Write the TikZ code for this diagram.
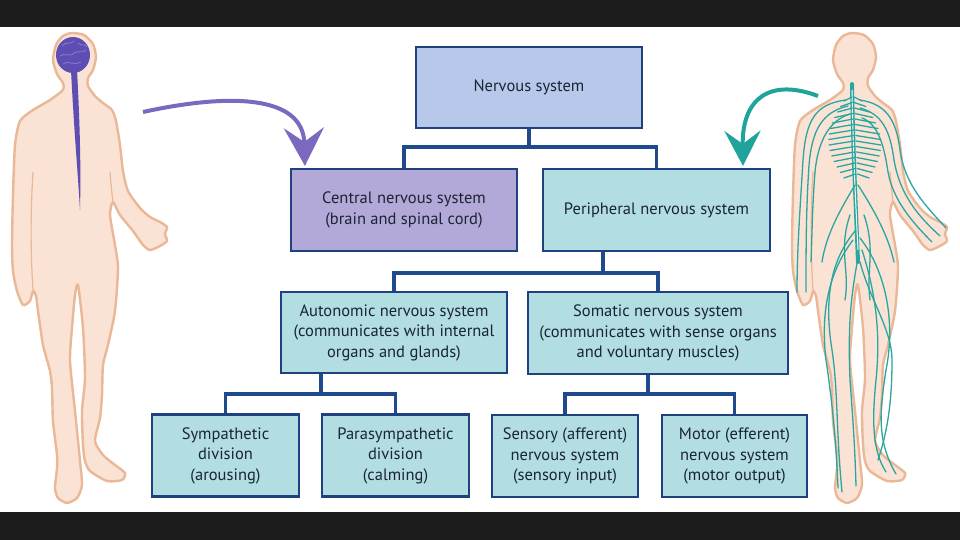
\documentclass[tikz,border=0pt]{standalone}
\usepackage{fontspec}
\setmainfont{PT Sans}
\usetikzlibrary{arrows.meta}
\definecolor{barcol}{HTML}{1C1C1C}
\definecolor{nsfill}{HTML}{B8C8EA}
\definecolor{cnsfill}{HTML}{B3A9D9}
\definecolor{tfill}{HTML}{B2DEE2}
\definecolor{bordercol}{HTML}{1F4181}
\definecolor{conncol}{HTML}{1F4A8C}
\definecolor{textcol}{HTML}{1A2434}
\definecolor{parrowcol}{HTML}{7B69BF}
\definecolor{tarrowcol}{HTML}{1FA39A}
\definecolor{skin}{HTML}{FAE3D4}
\definecolor{skinline}{HTML}{EAB797}
\definecolor{braincol}{HTML}{5E4DB2}
\definecolor{brainlight}{HTML}{8A7CD0}
\definecolor{nervecol}{HTML}{2AA6A0}
\begin{document}
\begin{tikzpicture}[x=1pt,y=-1pt,
  box/.style={draw=bordercol,line width=2.2pt,inner sep=0pt,align=center,text=textcol,
    font=\fontsize{16.5}{20.5}\selectfont},
  conn/.style={draw=conncol,line width=3.6pt},
  parrow/.style={draw=parrowcol,line width=4pt,shorten >=2pt,
    -{Stealth[length=38pt,width=40pt,inset=14pt]}},
  tarrow/.style={draw=tarrowcol,line width=4pt,shorten >=2pt,
    -{Stealth[length=35pt,width=36pt,inset=13pt]}},
  bodyline/.style={draw=skinline,fill=skin,line width=2.4pt,line join=round},
  innerline/.style={draw=skinline,line width=1.2pt,line cap=round},
  nerve/.style={draw=nervecol,line width=1.3pt,line cap=round},
  human/.pic={
    \draw[bodyline] plot[smooth cycle,tension=0.4] coordinates {
      (72,33) (84,35) (93,44) (96,57) (93,70) (88,78) (88,86) (95,96) (103,103)
      (112,110) (116,121) (120,145) (123,171) (128,191) (140,208) (150,217)
      (160,222) (167,227) (165,234) (167,241) (160,246) (150,250) (143,245)
      (133,231) (120,215) (113,202) (110,215) (115,245) (118,268) (115,311)
      (108,345) (103,365) (102,395) (100,418) (95,441) (103,455) (115,465)
      (125,473) (122,480) (107,481) (90,471) (85,461) (83,445) (82,411) (85,378)
      (83,328) (78,285) (75,295) (72,328) (70,361) (75,411) (80,461) (82,485)
      (77,498) (67,503) (58,498) (55,488) (57,468) (57,455) (53,421) (52,388)
      (50,371) (43,345) (38,311) (36,296) (33,291) (30,301) (23,305) (17,291)
      (13,271) (12,245) (13,195) (15,145) (20,121) (33,110) (50,100) (63,90)
      (63,83) (57,74) (53,60) (56,45) (63,36)};
    \draw[innerline] (33,172) .. controls (30,220) and (31,260) .. (33,290);
    \draw[innerline] (110,172) .. controls (111,185) and (112,195) .. (113,202);
  }]
\useasboundingbox (0,0) rectangle (960,540);
\fill[white] (0,0) rectangle (960,540);
\fill[barcol] (0,0) rectangle (960,27);
\fill[barcol] (0,512) rectangle (960,540);

% ---- figures
\pic at (0,0) {human};
\pic at (780,0) {human};

% brain and spinal cord (left figure)
\fill[braincol] (71,70) .. controls (74,130) and (78,175) .. (80,210)
  .. controls (81,170) and (80,125) .. (77,70) -- cycle;
\fill[braincol] (73,55) ellipse [x radius=17pt, y radius=18pt];
\draw[brainlight,line width=0.8pt] (62,46) .. controls (66,41) and (70,45) .. (74,41)
  (60,56) .. controls (65,52) and (69,58) .. (74,53) .. controls (78,50) and (82,54) .. (86,50)
  (63,64) .. controls (69,60) and (73,66) .. (81,62)
  (78,43) .. controls (82,47) and (85,43) .. (87,47);

% nerves (right figure)
\draw[nerve,line width=4pt] (852,84) .. controls (853,150) and (856,210) .. (858,262);
\draw[white,line width=1pt] (852,90) .. controls (853,150) and (856,210) .. (858,250);
\foreach \i in {0,...,14}{
  \pgfmathsetmacro{\yy}{97+5.5*\i}
  \pgfmathsetmacro{\ll}{8+17*sin(\i*12)}
  \pgfmathsetmacro{\xx}{852+0.25*\i}
  \draw[nerve] (\xx,\yy) -- ++(-\ll,4);
  \draw[nerve] (\xx+2,\yy) -- ++(\ll,4);
}
\draw[nerve] (846,100) .. controls (815,104) and (806,120) .. (803,160)
  .. controls (800,210) and (797,250) .. (797,292);
\draw[nerve] (848,106) .. controls (822,112) and (812,130) .. (809,165)
  .. controls (806,210) and (806,250) .. (806,292);
\draw[nerve] (850,114) .. controls (830,120) and (818,140) .. (815,172)
  .. controls (812,210) and (812,240) .. (811,262);
\draw[nerve] (860,100) .. controls (885,104) and (896,118) .. (900,150)
  .. controls (905,185) and (925,205) .. (946,228);
\draw[nerve] (860,108) .. controls (882,114) and (890,130) .. (894,160)
  .. controls (900,195) and (918,216) .. (940,236);
\draw[nerve] (862,118) .. controls (878,124) and (884,145) .. (888,172)
  .. controls (893,200) and (912,222) .. (932,242);
\draw[nerve] (855,185) .. controls (840,210) and (826,235) .. (822,262);
\draw[nerve] (858,185) .. controls (874,210) and (888,235) .. (894,262);
\draw[nerve] (856,230) .. controls (830,260) and (824,300) .. (832,350)
  .. controls (838,390) and (836,430) .. (842,492);
\draw[nerve] (853,240) .. controls (830,270) and (820,310) .. (826,360)
  .. controls (832,400) and (836,440) .. (838,488);
\draw[nerve] (858,258) .. controls (850,300) and (848,330) .. (850,380)
  .. controls (853,420) and (855,450) .. (856,486);
\draw[nerve] (860,238) .. controls (885,270) and (896,320) .. (886,370)
  .. controls (880,410) and (876,440) .. (896,474);
\draw[nerve] (862,250) .. controls (878,300) and (880,340) .. (876,380)
  .. controls (872,420) and (872,450) .. (886,472);
\draw[nerve] (860,262) .. controls (870,300) and (892,330) .. (892,360)
  .. controls (892,400) and (888,430) .. (878,460);
\draw[nerve] (850,215) .. controls (838,250) and (850,270) .. (845,300);
\draw[nerve] (864,215) .. controls (876,250) and (866,270) .. (870,300);

% ---- boxes
\node[box,fill=nsfill,minimum width=226pt,minimum height=81pt] (ns) at (529,87.5) {Nervous system};
\node[box,fill=cnsfill,minimum width=226pt,minimum height=82pt] (cns) at (404,210) {Central nervous system\\(brain and spinal cord)};
\node[box,fill=tfill,minimum width=227pt,minimum height=82pt] (pns) at (656.5,210) {Peripheral nervous system};
\node[box,fill=tfill,minimum width=226pt,minimum height=81pt] (aut) at (394,332.5) {Autonomic nervous system\\(communicates with internal\\organs and glands)};
\node[box,fill=tfill,minimum width=260pt,minimum height=82pt] (som) at (658,333) {Somatic nervous system\\(communicates with sense organs\\and voluntary muscles)};
\node[box,fill=tfill,minimum width=147pt,minimum height=82pt] (sym) at (225.5,455.5) {Sympathetic\\division\\(arousing)};
\node[box,fill=tfill,minimum width=147pt,minimum height=82pt] (par) at (395.5,455.5) {Parasympathetic\\division\\(calming)};
\node[box,fill=tfill,minimum width=146pt,minimum height=82pt] (sen) at (565,456) {Sensory (afferent)\\nervous system\\(sensory input)};
\node[box,fill=tfill,minimum width=145pt,minimum height=82pt] (mot) at (734.5,456) {Motor (efferent)\\nervous system\\(motor output)};

% ---- connectors
\coordinate (j1) at (529,147);
\draw[conn] (ns.south) -- (j1);
\draw[conn] (cns.north) |- (j1) -| (pns.north);
\coordinate (j2) at (603,273);
\draw[conn] (pns.south -| j2) -- (j2);
\draw[conn] (aut.north) |- (j2) -| (som.north);
\coordinate (j3) at (321,394);
\draw[conn] (aut.south -| j3) -- (j3);
\draw[conn] (sym.north) |- (j3) -| (par.north);
\coordinate (j4) at (648,394);
\draw[conn] (som.south -| j4) -- (j4);
\draw[conn] (sen.north) |- (j4) -| (mot.north);

% ---- arrows from figures
\coordinate (pstart) at (143,112);
\coordinate (pend) at (305,0);
\draw[parrow] (pstart) .. controls (230,93) and (303,95) .. (cns.north -| pend);
\coordinate (tstart) at (818,96);
\coordinate (tend) at (743,0);
\draw[tarrow] (tstart) .. controls (770,78) and (742,98) .. (pns.north -| tend);
\end{tikzpicture}
\end{document}
